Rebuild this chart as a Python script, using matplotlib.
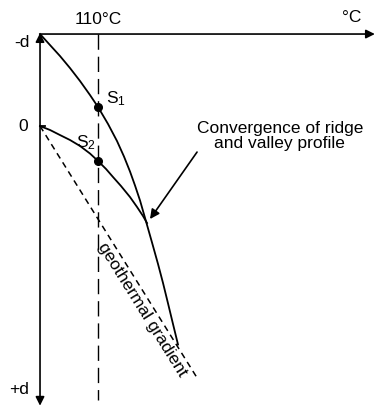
import numpy as np
import matplotlib.pyplot as plt

plt.rcParams['font.family'] = ['Liberation Sans', 'DejaVu Sans']
plt.rcParams['mathtext.fontset'] = 'custom'
plt.rcParams['mathtext.rm'] = 'Liberation Sans'
plt.rcParams['mathtext.it'] = 'Liberation Sans'
plt.rcParams['mathtext.default'] = 'regular'

# temperature (deg C) against depth (in units of d, 0 = valley floor, -1 = ridge top)
ridge_temp = [0, 19, 37.9, 56.9, 75.9, 94.8, 110, 129, 146, 159.3, 170.7,
              180.2, 189.7, 201.1, 212.4, 223.8, 233.3, 242.8, 252.2, 261.7]
ridge_depth = [-1.0, -0.88, -0.761, -0.63, -0.489, -0.337, -0.207, -0.022,
               0.163, 0.332, 0.495, 0.647, 0.81, 1.038, 1.266, 1.5,
               1.707, 1.929, 2.152, 2.375]

valley_temp = [0, 19, 37.9, 56.9, 75.9, 94.8, 110, 125.2, 138.4, 153.6,
               170.7, 184, 195.3, 202.9]
valley_depth = [0, 0.043, 0.098, 0.152, 0.217, 0.299, 0.38, 0.467, 0.554,
                0.652, 0.772, 0.88, 0.978, 1.054]

gradient_temp = [0, 296]
gradient_depth = [0, 2.72]

iso_temp = 110
s1_depth = -0.207
s2_depth = 0.38

fig = plt.figure(figsize=(3.76, 4.07), dpi=100)
ax = fig.add_axes([0, 0, 1, 1])
ax.set_xlim(-75.9, 637.2)
ax.set_ylim(3.054, -1.370)
ax.axis('off')

fs = 12.5

# axes with arrowheads
ax.annotate('', xy=(635, -1.0), xytext=(0, -1.0),
            arrowprops=dict(arrowstyle='-|>', color='k', lw=1.2,
                            mutation_scale=13, shrinkA=0, shrinkB=0))
ax.annotate('', xy=(0, -1.01), xytext=(0, 3.04),
            arrowprops=dict(arrowstyle='<|-|>', color='k', lw=1.2,
                            mutation_scale=13, shrinkA=0, shrinkB=0))

# 110 deg C isotherm marker
ax.plot([iso_temp, iso_temp], [-1.0, 2.98], color='k', lw=1.0,
        dashes=(11, 5))

# geothermal gradient
ax.plot(gradient_temp, gradient_depth, color='k', lw=1.1, dashes=(4, 3))

# ridge and valley profiles
ax.plot(ridge_temp, ridge_depth, color='k', lw=1.3, solid_joinstyle='round')
ax.plot(valley_temp, valley_depth, color='k', lw=1.3, solid_joinstyle='round')
ax.plot([0, 9], [0, 0], color='k', lw=1.3)

ax.plot([iso_temp, iso_temp], [s1_depth, s2_depth], 'o', color='k',
        markersize=5.5)

# labels
ax.text(iso_temp, -1.163, '110°C', ha='center', va='center', fontsize=fs)
ax.text(592, -1.185, '°C', ha='center', va='center', fontsize=fs)
ax.text(-34, -0.913, '-d', ha='center', va='center', fontsize=fs)
ax.text(-32, 0, '0', ha='center', va='center', fontsize=fs)
ax.text(-40, 2.859, '+d', ha='center', va='center', fontsize=fs)
ax.text(125, -0.25, 'S$_1$', ha='left', va='baseline', fontsize=fs)
ax.text(68, 0.23, 'S$_2$', ha='left', va='baseline', fontsize=fs)

ax.text(455, 0.109, 'Convergence of ridge\nand valley profile',
        ha='center', va='center', fontsize=fs, linespacing=1.0)
ax.annotate('', xy=(208.6, 1.011), xytext=(297.8, 0.283),
            arrowprops=dict(arrowstyle='-|>', color='k', lw=1.2,
                            mutation_scale=14, shrinkA=0, shrinkB=0))

# label along the gradient line, angle taken in display space
p0 = ax.transData.transform((gradient_temp[0], gradient_depth[0]))
p1 = ax.transData.transform((gradient_temp[1], gradient_depth[1]))
angle = np.degrees(np.arctan2(p1[1] - p0[1], p1[0] - p0[0]))
ax.text(194.5, 2.0, 'geothermal gradient', ha='center', va='center',
        rotation=angle, rotation_mode='anchor', fontsize=fs)

fig.savefig('out.png', dpi=100)
